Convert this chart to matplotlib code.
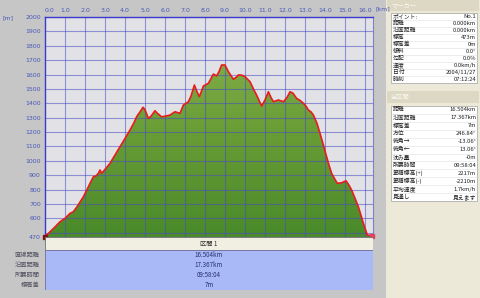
import numpy as np
import matplotlib
matplotlib.use("Agg")
import matplotlib.pyplot as plt
from matplotlib.patches import Polygon, Rectangle
from matplotlib.colors import LinearSegmentedColormap

# 距離(km)と標高(m)のプロファイル
dist_km = [0.00, 0.25, 0.50, 0.75, 1.00, 1.25, 1.42, 1.60, 1.92, 2.10, 2.25, 2.42,
           2.55, 2.67, 2.75, 2.83, 3.00, 3.25, 3.50, 3.75, 4.00, 4.25, 4.45, 4.58,
           4.75, 4.90, 5.00, 5.17, 5.30, 5.50, 5.62, 5.83, 6.00, 6.25, 6.50, 6.75,
           6.92, 7.17, 7.30, 7.47, 7.60, 7.72, 7.92, 8.17, 8.42, 8.58, 8.70, 8.83,
           9.00, 9.17, 9.42, 9.55, 9.67, 9.85, 10.00, 10.25, 10.42, 10.58, 10.83,
           11.00, 11.17, 11.30, 11.42, 11.67, 11.92, 12.10, 12.25, 12.40, 12.58,
           12.75, 12.92, 13.05, 13.17, 13.30, 13.42, 13.60, 13.75, 13.92, 14.08,
           14.20, 14.33, 14.50, 14.62, 14.83, 15.05, 15.20, 15.33, 15.50, 15.67,
           15.80, 15.92, 16.05, 16.12, 16.33]
elev_m = [473, 506, 540, 576, 600, 634, 646, 680, 750, 800, 843, 889,
          895, 913, 936, 913, 940, 982, 1040, 1098, 1155, 1214, 1265, 1306,
          1340, 1372, 1355, 1295, 1310, 1348, 1330, 1306, 1310, 1318, 1341, 1330,
          1388, 1411, 1450, 1527, 1480, 1446, 1520, 1539, 1603, 1590, 1620, 1666,
          1666, 1620, 1567, 1580, 1597, 1595, 1585, 1550, 1500, 1457, 1381,
          1423, 1480, 1440, 1411, 1423, 1411, 1440, 1480, 1470, 1434,
          1420, 1400, 1380, 1353, 1340, 1318, 1260, 1191, 1110, 1028,
          970, 913, 870, 843, 847, 861, 830, 797, 740, 680,
          620, 565, 510, 483, 480]

y_ticks = [470, 600, 700, 800, 900, 1000, 1100, 1200, 1300, 1400, 1500, 1600, 1700, 1800, 1900, 2000]
x_ticks = list(range(0, 17))

section_labels = ["直線距離", "沿面距離", "所要時間", "標高差"]
section_values = ["16.504km", "17.367km", "09:58:04", "7m"]

marker_labels = ["ポイント:", "距離", "沿面距離", "標高", "標高差", "傾斜", "勾配", "速度", "日付", "時刻"]
marker_values = ["No.1", "0.000km", "0.000km", "473m", "0m", "0.0°", "0.0%", "0.0km/h", "2004/11/27", "07:12:24"]

total_labels = ["距離", "沿面距離", "標高差", "方位", "俯角→", "俯角←", "沈み量", "所要時間",
                "累積標高(+)", "累積標高(-)", "平均速度", "見通し"]
total_values = ["16.504km", "17.367km", "7m", "246.84°", "-13.06°", "13.06°", "-0m", "09:58:04",
                "2217m", "-2210m", "1.7km/h", "見えます"]

JP = ["Noto Sans CJK JP", "DejaVu Sans"]
BLUE_TXT = "#4858b8"
GRID = "#4a4ac8"

W, H = 480, 298
fig = plt.figure(figsize=(W / 100, H / 100), dpi=100, facecolor="#c6c6c6")


def box(x0, y0, x1, y1):
    # ピクセル座標(左上原点) -> figure座標
    return [x0 / W, 1 - y1 / H, (x1 - x0) / W, (y1 - y0) / H]


# 標高グラフ
ax = fig.add_axes(box(45, 17, 373, 237))
ax.set_facecolor("#e2e2e6")
ax.set_xlim(0, 16.4)
ax.set_ylim(470, 2000)

xs = [0] + dist_km + [dist_km[-1], 16.4, 16.4, 0]
ys = [470] + elev_m + [470, 470, 470, 470]
poly = Polygon(np.column_stack([xs, ys]), closed=True, facecolor="none", edgecolor="none")
ax.add_patch(poly)
cmap = LinearSegmentedColormap.from_list("g", ["#4a8a2a", "#6a9e36", "#8cb450"])
grad = np.linspace(0, 1, 256).reshape(-1, 1)
im = ax.imshow(grad, extent=[0, 16.4, 470, 2000], origin="lower", aspect="auto", cmap=cmap, zorder=1)
im.set_clip_path(poly)

for v in range(500, 2001, 100):
    ax.axhline(v, color=GRID, lw=0.8, alpha=0.55, zorder=2)
for k in range(1, 17):
    ax.axvline(k, color=GRID, lw=0.8, alpha=0.55, zorder=2)

ax.plot(dist_km, elev_m, color="#e81c1c", lw=1.2, zorder=3, solid_joinstyle="round")
ax.plot([dist_km[0]], [elev_m[0]], marker="s", ms=2.5, color="#801010", zorder=4, clip_on=False)
ax.plot([dist_km[-1]], [elev_m[-1]], marker="s", ms=2.5, color="#e04060", zorder=4, clip_on=False)

ax.set_yticks(y_ticks)
ax.set_yticklabels([str(v) for v in y_ticks])
ax.xaxis.tick_top()
ax.set_xticks(x_ticks)
ax.set_xticklabels([f"{v:.1f}" for v in x_ticks])
ax.tick_params(length=0, labelsize=4.5, labelcolor=BLUE_TXT, pad=3)
ax.get_xticklabels()[0].set_horizontalalignment("left")
for s in ["left", "top"]:
    ax.spines[s].set_color("#3a3ad0")
    ax.spines[s].set_linewidth(1.0)
ax.spines["right"].set_color("#8080c8")
ax.spines["bottom"].set_color("#8080c8")
fig.text(8 / W, 1 - 18 / H, "[m]", fontsize=4.5, color=BLUE_TXT, ha="center", va="center")
fig.text(376 / W, 1 - 9 / H, "[km]", fontsize=4.5, color=BLUE_TXT, ha="left", va="center")

# 区間テーブル
tab = fig.add_axes(box(45, 237, 373, 290))
tab.set_xlim(0, 1)
tab.set_ylim(53, 0)
tab.axis("off")
tab.add_patch(Rectangle((0, 0), 1, 13, facecolor="#f1eee2", edgecolor="#707070", lw=0.6))
tab.add_patch(Rectangle((0, 13), 1, 40, facecolor="#a9b9f7", edgecolor="#7070a0", lw=0.6))
tab.text(0.5, 6.5, "区間 1", family=JP, fontsize=4.5, color="#303030", ha="center", va="center")
for i, (lab, val) in enumerate(zip(section_labels, section_values)):
    yc = 18 + 10 * i
    tab.text(0.5, yc, val, family=JP, fontsize=4.5, color="#283070", ha="center", va="center")
    fig.text(40 / W, 1 - (237 + yc) / H, lab, family=JP, fontsize=4.5, color="#505060",
             ha="right", va="center")

# 右側パネル
pan = fig.add_axes(box(386, 0, 480, 298))
pan.set_xlim(386, 480)
pan.set_ylim(298, 0)
pan.axis("off")
pan.add_patch(Rectangle((386, 0), 94, 298, facecolor="#ece9d8", edgecolor="none"))


def info_block(top, bottom, header_y, header, labels, values):
    pan.add_patch(Rectangle((387, header_y - 6), 92, 12, facecolor="#dcd8c4", edgecolor="none"))
    pan.text(391, header_y, header, family=JP, fontsize=4.5, color="#f8f8f0", ha="left", va="center")
    pan.add_patch(Rectangle((391, top), 86, bottom - top, facecolor="white", edgecolor="#a0a0a0", lw=0.5))
    rh = (bottom - top) / len(labels)
    for i, (lab, val) in enumerate(zip(labels, values)):
        yc = top + rh * (i + 0.5)
        if i > 0:
            pan.plot([391, 477], [top + rh * i] * 2, color="#e0e0e0", lw=0.4)
        pan.text(393, yc, lab, family=JP, fontsize=4.2, color="#202020", ha="left", va="center")
        pan.text(476, yc, val, family=JP, fontsize=4.2, color="#202020", ha="right", va="center")


info_block(12.5, 83, 5, "マーカー", marker_labels, marker_values)
info_block(106, 201, 97, "全区間", total_labels, total_values)

fig.savefig("out.png", dpi=100, facecolor=fig.get_facecolor())
